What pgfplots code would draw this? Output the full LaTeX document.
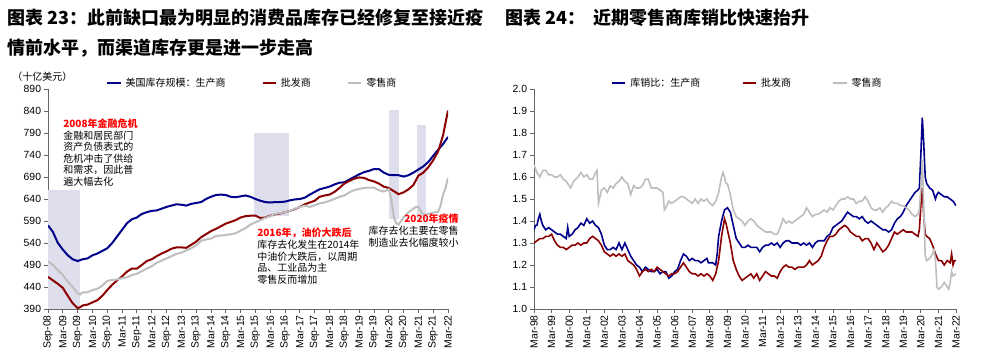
\documentclass[border=0pt]{standalone}
\usepackage{pgfplots}
\pgfplotsset{compat=1.18}
\usepackage{fontspec}
\setmainfont{Liberation Sans}
\newfontfamily\cjk{Noto Sans CJK SC}
\definecolor{cblue}{RGB}{0,0,139}
\definecolor{cred}{RGB}{139,0,0}
\definecolor{cgrey}{RGB}{190,190,190}
\definecolor{cshade}{RGB}{222,222,236}
\definecolor{cann}{RGB}{255,0,0}
\pgfplotsset{
  common/.style={
    scale only axis,
    axis x line*=bottom, axis y line*=left,
    axis line style={draw=gray!80!black, line width=0.6pt},
    tick style={draw=gray!80!black, line width=0.6pt},
    tick align=outside,
    major tick length=3pt,
    tick label style={font=\fontsize{7.8}{8}\selectfont},
    /pgf/number format/assume math mode=true,
    xticklabel style={rotate=90, anchor=east, inner sep=1.5pt},
    yticklabel style={inner sep=2pt},
    legend columns=3,
    legend style={draw=none, fill=none, inner sep=0pt, font=\cjk\fontsize{7.5}{8}\selectfont,
      /tikz/every odd column/.append style={column sep=1pt}},
    legend image code/.code={\draw[#1, line width=1.5pt] (0pt,0pt) -- (10pt,0pt);},
    clip=true,
  }
}
\begin{document}
\begin{tikzpicture}
\useasboundingbox (0,0) rectangle (739.5pt,269.25pt);
% ---------------- left chart ----------------
\begin{axis}[common,
  at={(36pt,37.5pt)}, anchor=south west,
  width=300pt, height=165pt,
  xmin=0, xmax=162, ymin=390, ymax=890,
  ytick={390,440,...,890},
  xtick={0,6,...,162},
  xticklabels={Sep-08,Mar-09,Sep-09,Mar-10,Sep-10,Mar-11,Sep-11,Mar-12,Sep-12,Mar-13,Sep-13,Mar-14,Sep-14,Mar-15,Sep-15,Mar-16,Sep-16,Mar-17,Sep-17,Mar-18,Sep-18,Mar-19,Sep-19,Mar-20,Sep-20,Mar-21,Sep-21,Mar-22},
  legend style={at={(axis description cs:0.145,1.027)}, anchor=west,
    /tikz/every even column/.append style={column sep=25pt}},
]
\addplot[fill=cshade, draw=none, forget plot] coordinates {(0,390)(12.85,390)(12.85,660)(0,660)} -- cycle;
\addplot[fill=cshade, draw=none, forget plot] coordinates {(83.4,602)(97.5,602)(97.5,791)(83.4,791)} -- cycle;
\addplot[fill=cshade, draw=none, forget plot] coordinates {(138.2,594)(142.3,594)(142.3,842)(138.2,842)} -- cycle;
\addplot[fill=cshade, draw=none, forget plot] coordinates {(149.6,594)(153.1,594)(153.1,808)(149.6,808)} -- cycle;
\addplot[cblue, line width=1.5pt] coordinates {
(0,580)(2,565)(4,540)(6,525)(8,512)(10,503)(12,499)(14,503)(16,505)(18,512)(20,516)(22,522)(24,528)(26,540)(28,555)(30,570)(32,585)(34,594)(36,598)(38,606)(40,610)(42,613)(44,614)(46,618)(48,622)(50,625)(52,628)(54,627)(56,625)(58,629)(60,631)(62,633)(64,640)(66,645)(68,649)(70,650)(72,649)(74,645)(76,644)(78,646)(80,648)(82,645)(84,640)(86,636)(88,633)(90,632)(92,633)(94,633)(96,634)(98,637)(100,639)(102,640)(104,643)(106,650)(108,656)(110,662)(112,665)(114,668)(116,673)(118,677)(120,678)(122,684)(124,690)(126,696)(128,701)(130,704)(132,708)(134,708)(136,700)(138,695)(140,694)(142,694)(144,691)(146,694)(148,700)(150,707)(152,714)(154,724)(156,738)(158,752)(160,765)(162,781)};
\addlegendentry{美国库存规模：生产商}
\addplot[cred, line width=1.5pt] coordinates {
(0,463)(2,455)(4,447)(6,438)(8,420)(10,403)(12,392)(13,394)(14,398)(16,400)(18,405)(20,410)(22,420)(24,433)(26,445)(28,455)(30,464)(32,475)(34,482)(36,482)(38,490)(40,499)(42,503)(44,510)(46,516)(48,521)(50,527)(52,530)(54,530)(56,529)(58,536)(60,543)(62,553)(64,560)(66,567)(68,572)(70,578)(72,584)(74,588)(76,592)(78,598)(80,601)(82,602)(84,602)(86,597)(88,598)(90,602)(92,605)(94,607)(96,610)(98,613)(100,617)(102,622)(104,628)(106,632)(108,636)(110,645)(112,648)(114,650)(116,656)(118,665)(120,675)(122,681)(124,686)(126,689)(128,688)(130,683)(132,680)(134,675)(136,668)(138,665)(140,658)(142,651)(144,655)(146,662)(148,672)(150,693)(152,700)(154,712)(156,728)(158,748)(160,785)(162,841)};
\addlegendentry{批发商}
\addplot[cgrey, line width=1.5pt] coordinates {
(0,498)(2,490)(4,478)(6,467)(8,452)(10,440)(12,426)(13,423)(14,428)(16,428)(18,433)(20,436)(22,443)(24,454)(26,456)(28,457)(30,460)(32,462)(34,467)(36,470)(38,476)(40,482)(42,487)(44,495)(46,500)(48,505)(50,510)(52,515)(54,518)(56,523)(58,528)(60,535)(62,545)(64,548)(66,550)(68,556)(70,557)(72,558)(74,560)(76,562)(78,568)(80,574)(82,582)(84,587)(86,592)(88,597)(90,601)(92,606)(94,608)(96,610)(98,613)(100,618)(102,622)(104,625)(106,622)(108,626)(110,630)(112,632)(114,636)(116,640)(118,645)(120,648)(122,655)(124,660)(126,663)(128,665)(130,666)(132,666)(134,660)(136,657)(138,662)(139,640)(140,600)(141,585)(142,582)(143,590)(144,598)(146,610)(148,618)(149,622)(150,622)(151,612)(152,604)(154,606)(156,609)(158,611)(159,625)(160,650)(161,665)(162,688)};
\addlegendentry{零售商}
\end{axis}
% ---------------- right chart ----------------
\begin{axis}[common,
  at={(400.5pt,37.5pt)}, anchor=south west,
  width=316.5pt, height=165pt,
  xmin=0, xmax=288, ymin=1.0, ymax=2.0,
  ytick={1.0,1.1,...,2.01},
  yticklabel style={/pgf/number format/.cd, fixed, fixed zerofill, precision=1},
  xtick={0,12,...,288},
  xticklabels={Mar-98,Mar-99,Mar-00,Mar-01,Mar-02,Mar-03,Mar-04,Mar-05,Mar-06,Mar-07,Mar-08,Mar-09,Mar-10,Mar-11,Mar-12,Mar-13,Mar-14,Mar-15,Mar-16,Mar-17,Mar-18,Mar-19,Mar-20,Mar-21,Mar-22},
  legend style={at={(axis description cs:0.182,1.027)}, anchor=west,
    /tikz/every even column/.append style={column sep=29pt}},
]
\addplot[cblue, line width=1.2pt] coordinates {
(0,1.36)(1,1.38)(2,1.38)(3,1.41)(4,1.43)(5,1.40)(6,1.38)(8,1.36)(10,1.37)(12,1.36)(14,1.35)(16,1.34)(18,1.34)(20,1.33)(22,1.32)(23,1.37)(24,1.33)(26,1.34)(28,1.36)(30,1.37)(32,1.39)(34,1.38)(36,1.41)(38,1.39)(40,1.40)(42,1.38)(44,1.37)(46,1.34)(48,1.29)(50,1.27)(52,1.27)(54,1.28)(56,1.27)(58,1.30)(60,1.27)(62,1.30)(64,1.27)(66,1.24)(68,1.22)(70,1.20)(72,1.19)(74,1.17)(76,1.19)(78,1.18)(80,1.17)(82,1.17)(84,1.18)(86,1.16)(88,1.17)(90,1.17)(92,1.14)(94,1.15)(96,1.17)(98,1.18)(100,1.22)(102,1.25)(104,1.24)(106,1.22)(108,1.23)(110,1.22)(112,1.22)(114,1.21)(116,1.22)(118,1.23)(119,1.21)(120,1.21)(122,1.21)(124,1.20)(125,1.25)(126,1.33)(128,1.40)(130,1.45)(132,1.46)(134,1.44)(136,1.38)(138,1.32)(140,1.30)(142,1.28)(144,1.28)(146,1.29)(148,1.28)(150,1.28)(152,1.28)(154,1.26)(156,1.28)(158,1.29)(160,1.29)(162,1.30)(164,1.29)(166,1.30)(168,1.28)(170,1.30)(172,1.31)(174,1.31)(176,1.30)(178,1.30)(180,1.30)(182,1.29)(184,1.30)(186,1.29)(188,1.30)(190,1.28)(192,1.30)(194,1.31)(196,1.31)(198,1.31)(200,1.33)(202,1.34)(204,1.37)(206,1.38)(208,1.39)(210,1.40)(212,1.42)(214,1.44)(216,1.43)(218,1.42)(220,1.42)(222,1.41)(224,1.42)(226,1.40)(228,1.39)(230,1.40)(232,1.39)(234,1.38)(236,1.37)(238,1.36)(240,1.36)(242,1.35)(244,1.36)(246,1.39)(248,1.41)(250,1.42)(252,1.44)(254,1.47)(256,1.49)(258,1.51)(260,1.53)(262,1.54)(263,1.55)(264,1.70)(265,1.87)(266,1.75)(267,1.60)(268,1.57)(270,1.55)(272,1.54)(274,1.50)(275,1.52)(276,1.53)(278,1.52)(280,1.51)(282,1.51)(284,1.50)(286,1.49)(288,1.47)};
\addlegendentry{库销比：生产商}
\addplot[cred, line width=1.2pt] coordinates {
(0,1.30)(2,1.31)(4,1.32)(6,1.32)(8,1.33)(10,1.33)(12,1.34)(14,1.31)(16,1.29)(18,1.28)(20,1.28)(22,1.27)(24,1.28)(26,1.29)(28,1.29)(30,1.30)(32,1.29)(34,1.30)(36,1.30)(38,1.32)(40,1.33)(42,1.32)(44,1.31)(46,1.29)(48,1.26)(50,1.25)(52,1.24)(54,1.25)(56,1.24)(58,1.25)(60,1.24)(62,1.25)(64,1.22)(66,1.21)(68,1.20)(70,1.18)(72,1.15)(74,1.17)(76,1.18)(78,1.17)(80,1.18)(82,1.17)(84,1.19)(86,1.18)(88,1.17)(90,1.16)(92,1.15)(94,1.16)(96,1.16)(98,1.17)(100,1.19)(102,1.21)(104,1.19)(106,1.17)(108,1.16)(110,1.16)(112,1.15)(114,1.16)(116,1.15)(118,1.16)(120,1.15)(122,1.13)(124,1.16)(126,1.22)(128,1.33)(130,1.41)(131,1.39)(132,1.36)(134,1.30)(136,1.22)(138,1.18)(140,1.15)(142,1.13)(144,1.14)(146,1.15)(148,1.16)(150,1.14)(152,1.16)(154,1.13)(156,1.15)(158,1.17)(160,1.16)(162,1.15)(164,1.15)(166,1.14)(168,1.17)(170,1.19)(172,1.20)(174,1.19)(176,1.19)(178,1.18)(180,1.19)(182,1.19)(184,1.19)(186,1.20)(188,1.22)(190,1.20)(192,1.21)(194,1.22)(196,1.24)(198,1.28)(200,1.31)(202,1.33)(204,1.33)(206,1.34)(208,1.36)(210,1.37)(212,1.38)(214,1.37)(216,1.35)(218,1.34)(220,1.33)(222,1.33)(224,1.31)(226,1.32)(228,1.32)(230,1.30)(232,1.27)(234,1.30)(236,1.28)(238,1.26)(240,1.27)(242,1.29)(244,1.32)(246,1.35)(248,1.34)(250,1.35)(252,1.36)(254,1.35)(256,1.35)(258,1.35)(260,1.34)(262,1.33)(263,1.36)(264,1.47)(265,1.55)(266,1.42)(267,1.34)(268,1.33)(270,1.32)(272,1.29)(274,1.25)(276,1.22)(278,1.22)(280,1.20)(281,1.21)(282,1.22)(284,1.21)(285,1.25)(286,1.20)(287,1.22)(288,1.22)};
\addlegendentry{批发商}
\addplot[cgrey, line width=1.2pt] coordinates {
(0,1.655)(2,1.62)(4,1.60)(6,1.63)(8,1.63)(10,1.61)(12,1.61)(14,1.60)(16,1.60)(18,1.61)(20,1.59)(22,1.58)(24,1.56)(25,1.55)(27,1.58)(30,1.60)(32,1.62)(34,1.60)(36,1.61)(38,1.59)(40,1.59)(42,1.62)(43,1.63)(44,1.48)(46,1.54)(48,1.55)(50,1.53)(52,1.56)(54,1.55)(56,1.57)(58,1.58)(60,1.60)(62,1.58)(64,1.57)(66,1.52)(68,1.56)(70,1.55)(72,1.55)(74,1.56)(76,1.59)(78,1.59)(80,1.55)(82,1.55)(84,1.55)(86,1.54)(88,1.53)(89,1.45)(90,1.46)(92,1.49)(94,1.48)(96,1.49)(98,1.50)(100,1.51)(102,1.51)(104,1.50)(106,1.49)(108,1.48)(110,1.50)(112,1.48)(114,1.50)(116,1.49)(118,1.50)(120,1.48)(122,1.47)(124,1.49)(126,1.53)(128,1.60)(129,1.62)(130,1.60)(131,1.57)(132,1.57)(134,1.52)(136,1.45)(138,1.42)(140,1.41)(142,1.40)(144,1.38)(146,1.40)(148,1.41)(150,1.40)(152,1.38)(154,1.37)(156,1.36)(158,1.35)(160,1.35)(162,1.35)(164,1.34)(166,1.34)(168,1.37)(170,1.41)(172,1.39)(174,1.40)(176,1.39)(178,1.40)(180,1.41)(182,1.42)(184,1.43)(186,1.46)(188,1.44)(190,1.42)(192,1.43)(194,1.43)(196,1.44)(198,1.45)(200,1.44)(202,1.46)(204,1.45)(206,1.47)(208,1.49)(210,1.50)(212,1.50)(214,1.51)(216,1.50)(218,1.50)(220,1.48)(222,1.49)(224,1.49)(226,1.51)(228,1.49)(230,1.46)(232,1.45)(234,1.45)(236,1.46)(238,1.44)(240,1.46)(242,1.47)(244,1.49)(246,1.48)(248,1.48)(250,1.47)(252,1.47)(254,1.46)(256,1.45)(258,1.43)(260,1.42)(262,1.43)(263,1.45)(264,1.55)(265,1.68)(266,1.45)(267,1.24)(268,1.22)(270,1.23)(272,1.25)(273,1.27)(274,1.22)(275,1.10)(276,1.09)(278,1.10)(280,1.12)(282,1.10)(283,1.09)(284,1.12)(285,1.17)(286,1.15)(288,1.16)};
\addlegendentry{零售商}
\end{axis}
% ---------------- texts (pixel frame) ----------------
\begin{scope}[shift={(0,269.25pt)}, x=0.75pt, y=-0.75pt]
\node[anchor=west, inner sep=0pt, font=\cjk\bfseries\fontsize{13.5}{14}\selectfont] at (7,18) {图表 23：此前缺口最为明显的消费品库存已经修复至接近疫};
\node[anchor=west, inner sep=0pt, font=\cjk\bfseries\fontsize{13.5}{14}\selectfont] at (7,48) {情前水平，而渠道库存更是进一步走高};
\node[anchor=west, inner sep=0pt, font=\cjk\bfseries\fontsize{13.5}{14}\selectfont] at (505,18) {图表 24：\ \ 近期零售商库销比快速抬升};
\node[anchor=west, inner sep=0pt, font=\cjk\fontsize{7.5}{8}\selectfont] at (12,77) {（十亿美元）};
\node[anchor=north west, inner sep=0pt, align=left, font=\cjk\fontsize{7.5}{8.6}\selectfont] at (63,119) {\textcolor{cann}{\bfseries 2008年金融危机}\\金融和居民部门\\资产负债表式的\\危机冲击了供给\\和需求，因此普\\遍大幅去化};
\node[anchor=north west, inner sep=0pt, align=left, font=\cjk\fontsize{7.5}{8.7}\selectfont] at (257,228) {\textcolor{cann}{\bfseries 2016年，油价大跌后}\\库存去化发生在2014年\\中油价大跌后，以周期\\品、工业品为主\\零售反而增加};
\node[anchor=north east, inner sep=0pt, align=right, font=\cjk\fontsize{7.5}{8.7}\selectfont] at (459,214) {\textcolor{cann}{\bfseries 2020年疫情}\\库存去化主要在零售\\制造业去化幅度较小};
\end{scope}
\end{tikzpicture}
\end{document}
